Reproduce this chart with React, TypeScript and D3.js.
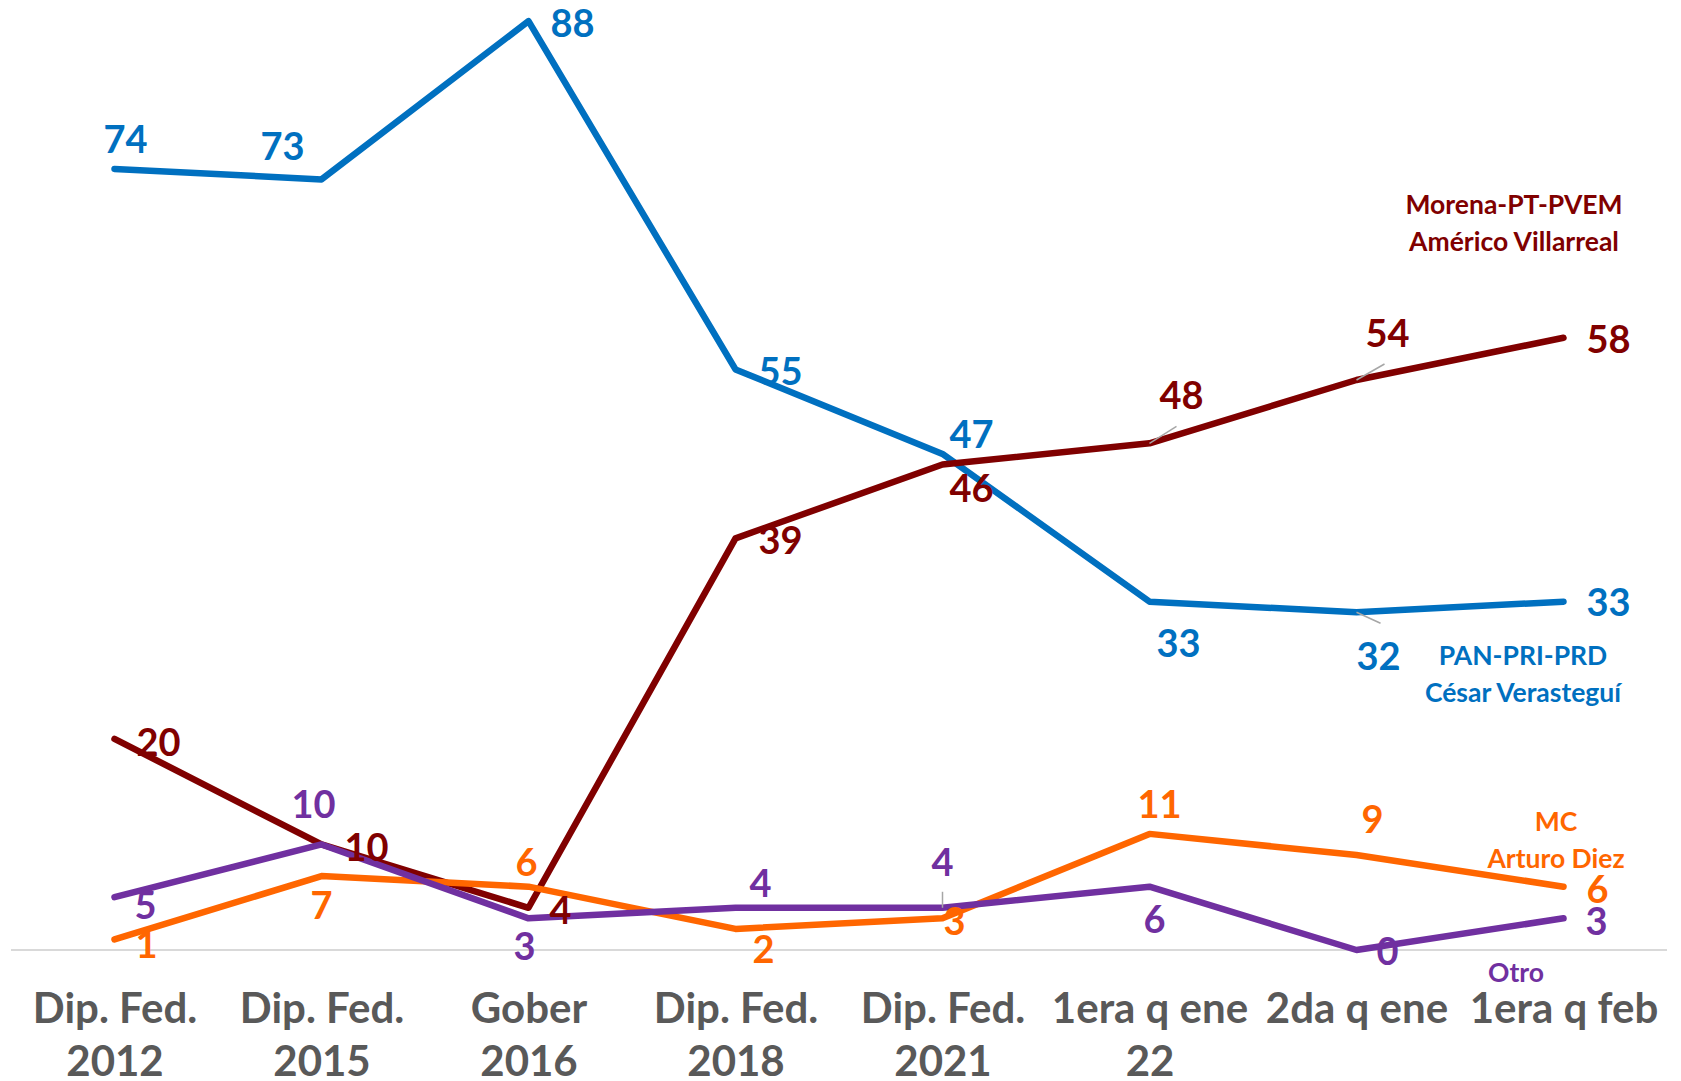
import { useEffect, useRef } from "react";
import * as d3 from "d3";

const W = 1681;
const H = 1081;

const categories = ["c0", "c1", "c2", "c3", "c4", "c5", "c6", "c7"];
const tickLines = [
  ["Dip. Fed.", "2012"],
  ["Dip. Fed.", "2015"],
  ["Gober", "2016"],
  ["Dip. Fed.", "2018"],
  ["Dip. Fed.", "2021"],
  ["1era q ene", "22"],
  ["2da q ene"],
  ["1era q feb"],
];

const panValues = [74, 73, 88, 55, 47, 33, 32, 33];
const morenaValues = [20, 10, 4, 39, 46, 48, 54, 58];
const mcValues = [1, 7, 6, 2, 3, 11, 9, 6];
const otroValues = [5, 10, 3, 4, 4, 6, 0, 3];

// label offsets from the point, [dx, dy]
const panOffsets = [[11, -30], [-39, -33], [44, 2], [45, 2], [29, -20], [29, 42], [22, 44], [45, 1]];
const morenaOffsets = [[44, 3], [45, 3], [32, 3], [45, 2], [29, 24], [32, -48], [31, -47], [45, 2]];
const mcOffsets = [[32, 5], [0, 29], [-2, -24], [28, 20], [12, 3], [10, -30], [16, -36], [34, 3]];
const otroOffsets = [[31, 8], [-8, -40], [-4, 28], [25, -24], [0, -45], [5, 33], [31, 1], [33, 3]];

const FONT = "Lato, 'Open Sans', sans-serif";

export default function App() {
  const svgRef = useRef<SVGSVGElement>(null);

  useEffect(() => {
    if (!svgRef.current) return;
    const svg = d3.select(svgRef.current);
    svg.selectAll("*").remove();

    const x = d3.scalePoint<string>().domain(categories).range([11, 1667]).padding(0.5);
    const y = d3.scaleLinear().domain([0, 90]).range([950, 0]);

    // baseline
    svg
      .append("line")
      .attr("x1", 11)
      .attr("x2", 1667)
      .attr("y1", y(0))
      .attr("y2", y(0))
      .attr("stroke", "#D9D9D9")
      .attr("stroke-width", 2);

    // category labels
    const axis = svg
      .append("g")
      .attr("transform", `translate(0,${y(0)})`)
      .call(d3.axisBottom(x).tickSize(0).tickFormat(() => ""));
    axis.select(".domain").remove();
    axis
      .selectAll<SVGGElement, string>(".tick")
      .each(function (d, i) {
        const t = d3.select(this).select("text").text(null)
          .attr("y", 0)
          .attr("dy", null)
          .attr("fill", "#595959")
          .attr("font-family", FONT)
          .attr("font-weight", 700)
          .attr("font-size", 42);
        tickLines[i].forEach((line, j) => {
          t.append("tspan").attr("x", 0).attr("y", 73 + j * 53).text(line);
        });
      });

    const series = [
      { values: panValues, offsets: panOffsets, color: "#0070C0" },
      { values: morenaValues, offsets: morenaOffsets, color: "#800000" },
      { values: mcValues, offsets: mcOffsets, color: "#FF6600" },
      { values: otroValues, offsets: otroOffsets, color: "#7030A0" },
    ];

    const line = d3
      .line<number>()
      .x((_, i) => x(categories[i]) ?? 0)
      .y((v) => y(v));

    series.forEach((s) => {
      svg
        .append("path")
        .datum(s.values)
        .attr("d", line)
        .attr("fill", "none")
        .attr("stroke", s.color)
        .attr("stroke-width", 6.5)
        .attr("stroke-linejoin", "round")
        .attr("stroke-linecap", "round");
    });

    // leader lines
    const leaders: [number[], number, number, number][] = [
      [morenaValues, 5, 27, -17],
      [morenaValues, 6, 28, -16],
      [panValues, 6, 24, 11],
      [otroValues, 4, 0, -16],
    ];
    leaders.forEach(([vals, i, dx, dy]) => {
      const px = x(categories[i]) ?? 0;
      const py = y(vals[i]);
      svg
        .append("line")
        .attr("x1", px)
        .attr("y1", py)
        .attr("x2", px + dx)
        .attr("y2", py + dy)
        .attr("stroke", "#A6A6A6")
        .attr("stroke-width", 1.5);
    });

    // data labels
    series.forEach((s) => {
      svg
        .append("g")
        .selectAll("text")
        .data(s.values)
        .join("text")
        .attr("x", (_, i) => (x(categories[i]) ?? 0) + s.offsets[i][0])
        .attr("y", (v, i) => y(v) + s.offsets[i][1])
        .attr("dy", "0.36em")
        .attr("text-anchor", "middle")
        .attr("fill", s.color)
        .attr("font-family", FONT)
        .attr("font-weight", 700)
        .attr("font-size", 38)
        .text((v) => v);
    });

    // series names
    const names = [
      { lines: ["Morena-PT-PVEM", "Américo Villarreal"], x: 1514, y: 204, color: "#800000" },
      { lines: ["PAN-PRI-PRD", "César Verasteguí"], x: 1523, y: 655, color: "#0070C0" },
      { lines: ["MC", "Arturo Diez"], x: 1556, y: 821, color: "#FF6600" },
      { lines: ["Otro"], x: 1516, y: 972, color: "#7030A0" },
    ];
    names.forEach((n) => {
      const t = svg
        .append("text")
        .attr("text-anchor", "middle")
        .attr("fill", n.color)
        .attr("font-family", FONT)
        .attr("font-weight", 700)
        .attr("font-size", 26.5);
      n.lines.forEach((l, j) => {
        t.append("tspan").attr("x", n.x).attr("y", n.y + j * 37).attr("dy", "0.36em").text(l);
      });
    });
  }, []);

  return (
    <svg
      ref={svgRef}
      width={W}
      height={H}
      style={{ position: "absolute", left: 0, top: 0, background: "#fff" }}
    />
  );
}
